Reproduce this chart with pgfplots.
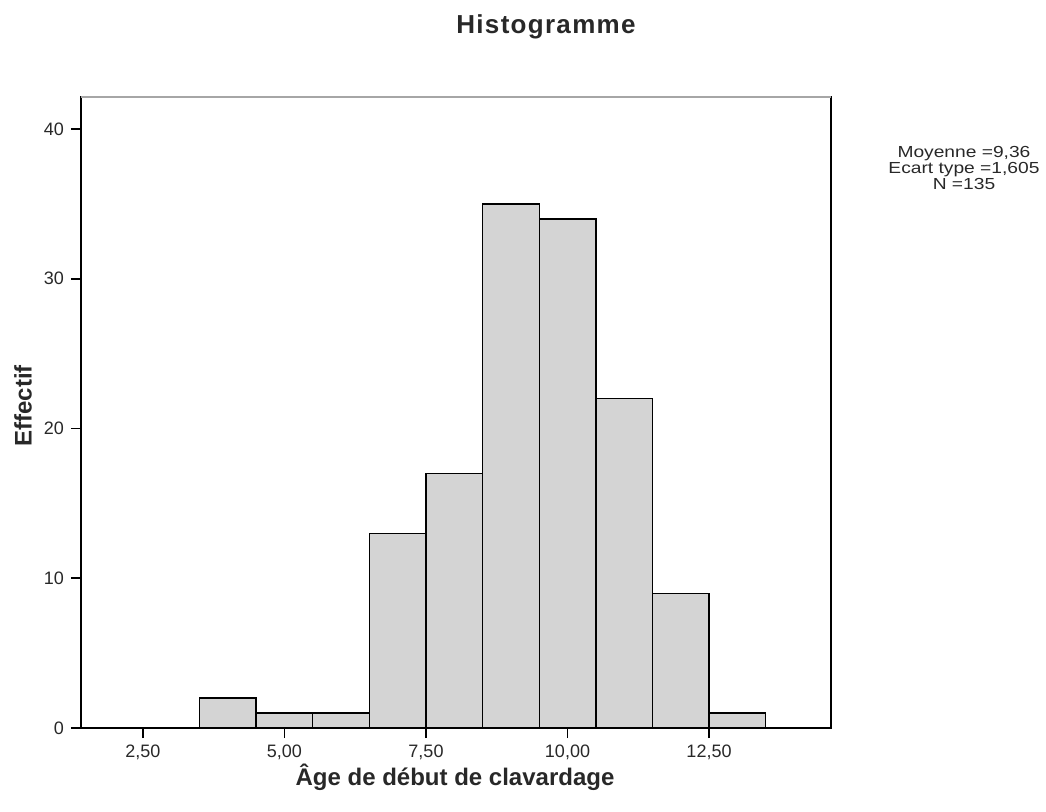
\documentclass[border=0pt]{standalone}
\usepackage{pgfplots}
\pgfplotsset{compat=1.18}
\usepackage{fontspec}
\setmainfont{Liberation Sans}
\newfontfamily\titlefont[LetterSpace=5]{Liberation Sans}
\definecolor{barfill}{RGB}{212,212,212}
\definecolor{txt}{RGB}{40,40,40}
\begin{document}
\begin{tikzpicture}
\useasboundingbox (0,0) rectangle (523pt,405.5pt);
\begin{axis}[
  at={(40.5pt,41.5pt)}, anchor=south west,
  scale only axis, width=375pt, height=315.5pt,
  xmin=1.405, xmax=14.655, ymin=0, ymax=42.14,
  axis line style={black, line width=0.9pt},
  tick align=outside, xtick pos=bottom, ytick pos=left,
  major tick length=5pt,
  tick style={black, line width=0.8pt},
  xtick={2.5,5,7.5,10,12.5},
  xticklabels={{2,50},{5,00},{7,50},{10,00},{12,50}},
  ytick={0,10,20,30,40},
  tick label style={font=\fontsize{9}{10}\selectfont, text=txt},
  /pgf/number format/assume math mode=true,
  clip=false,
]
\addplot[ybar interval, fill=barfill, draw=black, line width=0.7pt] coordinates {
(3.5,2) (4.5,1) (5.5,1) (6.5,13) (7.5,17) (8.5,35) (9.5,34) (10.5,22) (11.5,9) (12.5,1) (13.5,1)};
\draw[white, line width=1.2pt] (rel axis cs:0.002,1) -- (rel axis cs:0.998,1);
\draw[gray!70, line width=0.6pt] (rel axis cs:0,1) -- (rel axis cs:1,1);
\end{axis}
\node[font=\fontsize{13}{14}\selectfont\titlefont\bfseries, text=txt] at (273pt,392pt) {Histogramme};
\node[font=\fontsize{12}{13}\selectfont\bfseries, text=txt] at (227.5pt,17pt) {Âge de début de clavardage};
\node[font=\fontsize{12}{13}\selectfont\bfseries, text=txt, rotate=90] at (11.5pt,202.5pt) {Effectif};
\node[font=\fontsize{8}{8}\selectfont, text=txt, align=center] at (482pt,321.5pt) {\scalebox{1.2}[1]{Moyenne =9,36}\\\scalebox{1.2}[1]{Ecart type =1,605}\\\scalebox{1.2}[1]{N =135}};
\end{tikzpicture}
\end{document}
